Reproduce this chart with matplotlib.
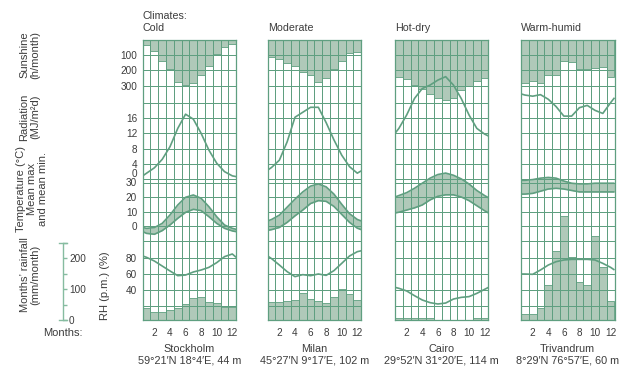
import numpy as np
import matplotlib.pyplot as plt
from matplotlib.transforms import Affine2D

plt.rcParams['font.family'] = ['Liberation Sans', 'DejaVu Sans']

GREEN = '#5f9f80'
LIGHT = '#86bca0'
FILL = '#b0c9b9'
TEXT = '#3c3c3c'

months = np.arange(1, 13)
# curves: value at left panel edge, Jan..Dec (month centres), value at right edge
curve_x = np.r_[0.5, months, 12.5]

titles = ['Cold', 'Moderate', 'Hot-dry', 'Warm-humid']
stations = ['Stockholm', 'Milan', 'Cairo', 'Trivandrum']
locations = ["59°21′N 18°4′E, 44 m", "45°27′N 9°17′E, 102 m",
             "29°52′N 31°20′E, 114 m", "8°29′N 76°57′E, 60 m"]

# sunshine, h/month
sunshine = [
    [33, 70, 136, 191, 278, 296, 281, 230, 169, 94, 44, 28],
    [114, 127, 153, 169, 208, 230, 274, 248, 191, 138, 88, 77],
    [246, 257, 296, 325, 355, 384, 395, 380, 329, 303, 268, 252],
    [285, 270, 281, 230, 230, 136, 145, 191, 193, 186, 175, 246],
]
# radiation, MJ/m2d
radiation = [
    [0.9, 1.6, 3.0, 5.2, 8.5, 13.3, 17.0, 15.7, 12.0, 7.6, 4.2, 2.0, 0.9, 0.7],
    [2.4, 3.1, 5.0, 9.8, 16.2, 17.5, 18.8, 18.8, 14.8, 10.3, 6.3, 3.3, 1.6, 2.2],
    [12.0, 13.3, 16.8, 21.1, 23.7, 24.6, 25.9, 26.8, 24.6, 21.1, 16.8, 13.3, 11.8, 11.3],
    [22.3, 22.0, 21.7, 22.1, 20.9, 19.0, 16.5, 16.5, 18.7, 19.3, 18.0, 17.2, 20.0, 21.3],
]
# mean max / mean min temperature, deg C
temp_max = [
    [-1.1, -1.6, -1.1, 1.8, 7.6, 14.5, 19.8, 21.4, 19.1, 13.3, 6.4, 0.7, -1.6, -2.3],
    [3.5, 4.5, 7.5, 13, 18.5, 23.5, 27.5, 29, 27, 22, 15, 8.5, 4.5, 3.5],
    [20, 21, 23, 26, 29.5, 33, 35.5, 36.5, 35, 32.5, 29, 24.5, 21, 19.5],
    [31.5, 31.5, 32, 33, 33.5, 33, 31, 29.5, 29, 29, 29.5, 29.5, 29.5, 29.5],
]
temp_min = [
    [-3.9, -5.1, -5.7, -3.2, 0.7, 5.3, 9.4, 11.5, 10.6, 6.4, 1.8, -1.6, -3.4, -3.9],
    [-3, -2.5, -1, 2.5, 7, 11, 15.5, 17.5, 17, 13.5, 8, 2.5, -1.5, -2.5],
    [9, 9.5, 11, 12.5, 14.5, 18, 20.5, 21.5, 21.5, 20, 17.5, 14, 10.5, 9],
    [22, 22, 22.5, 24, 25.5, 26, 25.5, 24.5, 23.5, 23.5, 23.5, 23.5, 23.5, 23.5],
]
# relative humidity p.m., %
rh = [
    [82.5, 80.8, 76.2, 70, 63.8, 57.9, 58.7, 62.5, 65, 68.3, 74.2, 81.7, 85, 80.8],
    [82.5, 79.2, 71.2, 62.9, 56.7, 59.2, 57.9, 60, 58.3, 64.2, 73.3, 82.5, 87.9, 89],
    [43.3, 42.1, 38.8, 32.9, 27.5, 24.2, 22.5, 23.7, 28.7, 30.8, 31.7, 35.8, 40.8, 43.3],
    [60, 60, 59.6, 65, 71.2, 75.4, 77.5, 78.3, 78.3, 78.3, 77.5, 73.3, 68.3, 65],
]
# rainfall, mm/month
rainfall = [
    [40, 25, 25, 32, 38, 52, 70, 75, 57, 54, 43, 41],
    [57, 58, 61, 65, 86, 68, 60, 56, 74, 100, 84, 65],
    [8, 7, 7, 7, 6, 0, 0, 0, 0, 0, 6, 8],
    [18, 18, 40, 113, 223, 335, 202, 122, 113, 271, 172, 61],
]

sun_ticks = [100, 200, 300]
rad_ticks = [16, 12, 8, 4]
temp_ticks = [30, 20, 10, 0]
rh_ticks = [80, 60, 40]
rain_ticks = [0, 50, 100, 150, 200, 250]

# layout in pixel rows (from the top of the figure)
W, H = 620, 366
TOP, BOT = 40, 320
panel_left = [142.7, 267.7, 395, 521]
panel_w = 93.5
# value -> pixel row: row = p0 + k * value
SUN = (40, 0.1517)
RAD = (179.3, -3.83)
TEMP = (226, -1.45)
RH = (322, -0.8)
RAIN = (320, -0.31)

GRID_LW = 0.72  # one pixel at 100 dpi


def layer(ax, p0, k):
    return Affine2D().scale(1, k).translate(0, p0) + ax.transData


def rows(scale, vals):
    return [scale[0] + scale[1] * v for v in vals]


fig = plt.figure(figsize=(6.2, 3.66), dpi=100)

for i in range(4):
    ax = fig.add_axes([panel_left[i] / W, (H - BOT) / H, panel_w / W, (BOT - TOP) / H])
    ax.patch.set_alpha(0)
    t_sun, t_rad, t_temp = layer(ax, *SUN), layer(ax, *RAD), layer(ax, *TEMP)
    t_rh, t_rain = layer(ax, *RH), layer(ax, *RAIN)

    ax.bar(months, sunshine[i], width=1, color=FILL, edgecolor=GREEN, lw=0.6,
           transform=t_sun, zorder=1)
    ax.bar(months, rainfall[i], width=1, color=FILL, edgecolor=GREEN, lw=0.6,
           transform=t_rain, zorder=1)
    ax.fill_between(curve_x, temp_min[i], temp_max[i], color=FILL, lw=0,
                    transform=t_temp, zorder=1)

    kw = dict(colors=GREEN, lw=GRID_LW, zorder=2, antialiased=False)
    ax.hlines(sun_ticks, 0.5, 12.5, transform=t_sun, **kw)
    ax.hlines([0, 4, 8, 12, 16, 20], 0.5, 12.5, transform=t_rad, **kw)
    ax.hlines([-10, 0, 10, 20, 30], 0.5, 12.5, transform=t_temp, **kw)
    ax.hlines([20, 40, 60, 80], 0.5, 12.5, transform=t_rh, **kw)

    lkw = dict(color=GREEN, lw=1.2, zorder=3, solid_capstyle='butt')
    ax.plot(curve_x, radiation[i], transform=t_rad, **lkw)
    ax.plot(curve_x, temp_max[i], transform=t_temp, **lkw)
    ax.plot(curve_x, temp_min[i], transform=t_temp, **lkw)
    ax.plot(curve_x, rh[i], transform=t_rh, **lkw)

    ax.set_xlim(0.5, 12.5)
    ax.set_ylim(BOT, TOP)
    ax.set_xticks(months[1::2])
    ax.set_xticks(np.arange(0.5, 13), minor=True)
    ax.grid(which='minor', axis='x', color=GREEN, lw=GRID_LW, antialiased=False)
    ax.set_axisbelow(False)
    ax.tick_params(which='both', length=0)
    ax.tick_params(axis='x', labelsize=7.2, pad=6, labelcolor=TEXT)
    for s in ax.spines.values():
        s.set_color(GREEN)
        s.set_linewidth(0.9)

    if i == 0:
        pos = rows(SUN, sun_ticks) + rows(RAD, rad_ticks) + rows(TEMP, temp_ticks) + rows(RH, rh_ticks)
        labs = [str(v) for v in sun_ticks + rad_ticks + temp_ticks + rh_ticks]
        ax.set_yticks(pos, labs)
        ax.tick_params(axis='y', labelsize=7.2, pad=4, labelcolor=TEXT)
        ax.annotate('0', xy=(0.5, 0), xycoords=t_rad, xytext=(-4, 1.8),
                    textcoords='offset points', ha='right', va='baseline',
                    fontsize=7.2, color=TEXT)
        ax.annotate('Climates:', xy=(0, 1), xycoords='axes fraction', xytext=(0, 15),
                    textcoords='offset points', ha='left', va='baseline',
                    fontsize=7.7, color=TEXT)
    else:
        ax.set_yticks([])

    ax.annotate(titles[i], xy=(0, 1), xycoords='axes fraction', xytext=(0, 6.2),
                textcoords='offset points', ha='left', va='baseline',
                fontsize=7.7, color=TEXT)
    cx = (panel_left[i] + panel_w / 2) / W
    fig.text(cx, 1 - 348.5 / H, stations[i], ha='center', va='center', fontsize=7.8, color=TEXT)
    fig.text(cx, 1 - 360.5 / H, locations[i], ha='center', va='center', fontsize=7.8, color=TEXT)

# rainfall scale on the left
ar = fig.add_axes([58.5 / W, (H - 320) / H, 8.4 / W, (320 - rows(RAIN, [250])[0]) / H])
ar.patch.set_alpha(0)
ar.set_xlim(0, 1)
ar.set_ylim(0, 250)
for name in ['top', 'bottom', 'left']:
    ar.spines[name].set_visible(False)
ar.spines['right'].set_position(('axes', 0.5))
ar.spines['right'].set_color(LIGHT)
ar.spines['right'].set_linewidth(1)
ar.yaxis.tick_right()
ar.set_xticks([])
ar.set_yticks(rain_ticks, ['0', '', '100', '', '200', ''])
ar.tick_params(axis='y', direction='out', length=3, width=1, color=LIGHT,
               labelsize=7.2, pad=1.5, labelcolor=TEXT)
ar.axhline(0, color=LIGHT, lw=1, clip_on=False)
ar.axhline(250, color=LIGHT, lw=1, clip_on=False)

lab = dict(rotation=90, ha='center', va='center', fontsize=8, color=TEXT,
           multialignment='center', linespacing=1.1)
fig.text(30 / W, 1 - 55 / H, 'Sunshine\n(h/month)', **lab)
fig.text(30 / W, 1 - 117 / H, 'Radiation\n(MJ/m²d)', **lab)
fig.text(32 / W, 1 - 189 / H, 'Temperature (°C)\nMean max\nand mean min.', **lab)
fig.text(30 / W, 1 - 275 / H, 'Months’ rainfall\n(mm/month)', **lab)
fig.text(105 / W, 1 - 286 / H, 'RH (p.m.) (%)', **lab)
fig.text(63 / W, 1 - 333.5 / H, 'Months:', ha='center', va='center', fontsize=8, color=TEXT)

fig.savefig('out.png', dpi=100)
